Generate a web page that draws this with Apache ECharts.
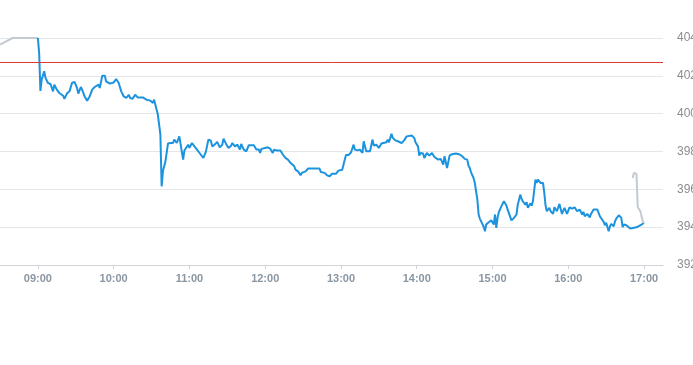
<!DOCTYPE html>
<html><head><meta charset="utf-8">
<script src="https://cdn.jsdelivr.net/npm/echarts@6/dist/echarts.min.js"></script>
<style>html,body{margin:0;padding:0;background:#fff}#c{width:693px;height:365px}</style>
</head><body><div id="c"></div>
<script>
// Regular session (blue)
const times = ["09:00","09:01","09:02","09:03","09:05","09:06","09:08","09:10","09:12","09:13","09:15","09:17","09:20","09:21","09:23","09:25","09:27","09:29","09:31","09:32","09:34","09:35","09:37","09:39","09:41","09:43","09:45","09:48","09:49","09:51","09:53","09:54","09:57","10:00","10:02","10:04","10:06","10:08","10:10","10:12","10:13","10:15","10:17","10:19","10:23","10:26","10:27","10:29","10:31","10:32","10:33","10:35","10:37","10:38","10:39","10:41","10:43","10:45","10:47","10:48","10:50","10:52","10:53","10:55","10:56","10:57","10:59","11:00","11:02","11:04","11:06","11:08","11:11","11:13","11:15","11:17","11:18","11:20","11:22","11:24","11:26","11:27","11:29","11:31","11:33","11:34","11:36","11:38","11:40","11:41","11:43","11:45","11:47","11:51","11:53","11:55","11:56","11:57","12:00","12:02","12:04","12:06","12:07","12:09","12:12","12:14","12:16","12:18","12:20","12:21","12:23","12:24","12:26","12:28","12:29","12:32","12:34","12:38","12:43","12:44","12:47","12:49","12:51","12:53","12:56","12:58","13:01","13:03","13:04","13:06","13:08","13:10","13:11","13:13","13:15","13:17","13:18","13:20","13:23","13:25","13:26","13:28","13:30","13:32","13:33","13:36","13:37","13:38","13:40","13:41","13:43","13:45","13:48","13:50","13:52","13:53","13:56","13:58","13:59","14:01","14:02","14:03","14:05","14:06","14:08","14:10","14:12","14:14","14:15","14:17","14:19","14:21","14:22","14:24","14:26","14:28","14:29","14:31","14:34","14:36","14:38","14:40","14:41","14:42","14:43","14:45","14:46","14:47","14:48","14:49","14:50","14:51","14:53","14:54","14:55","14:57","14:58","14:59","15:01","15:02","15:03","15:04","15:05","15:07","15:09","15:11","15:12","15:13","15:15","15:17","15:19","15:20","15:22","15:23","15:24","15:26","15:27","15:28","15:30","15:31","15:32","15:34","15:35","15:36","15:38","15:40","15:41","15:42","15:43","15:45","15:46","15:48","15:49","15:51","15:53","15:55","15:57","15:59","16:01","16:03","16:05","16:07","16:09","16:11","16:12","16:13","16:15","16:17","16:18","16:20","16:23","16:25","16:26","16:28","16:29","16:30","16:32","16:33","16:34","16:36","16:37","16:38","16:40","16:41","16:42","16:43","16:44","16:46","16:47","16:49","16:50","16:54","16:58","17:00"];
const prices = [404.0,403.2,401.2,401.8,402.24,401.89,401.62,401.57,401.18,401.53,401.27,401.09,400.95,400.78,401.06,401.18,401.62,401.68,401.36,401.06,401.41,401.27,400.91,400.69,400.91,401.27,401.41,401.53,401.36,402.01,402.01,401.71,401.59,401.65,401.83,401.62,401.18,400.91,400.83,401.0,400.83,400.79,401.0,400.86,400.86,400.74,400.79,400.69,400.57,400.74,400.83,399.95,398.89,396.16,396.95,397.48,398.42,398.45,398.45,398.63,398.45,398.8,398.84,397.57,398.05,397.98,398.36,398.19,398.45,398.27,398.1,397.92,397.66,397.98,398.63,398.57,398.27,398.36,398.51,398.22,398.36,398.68,398.4,398.19,398.31,398.45,398.27,398.36,398.1,398.4,398.1,398.01,398.33,398.33,398.1,398.1,397.92,398.14,398.19,398.22,398.15,397.92,398.1,398.05,398.05,397.84,397.66,397.57,397.4,397.31,397.22,397.04,396.95,396.74,396.87,396.95,397.1,397.1,397.1,396.92,396.87,396.74,396.69,396.82,396.82,396.99,397.04,397.57,397.81,397.81,397.96,398.36,398.1,398.06,398.1,397.92,398.54,398.01,398.01,398.63,398.31,398.36,398.19,398.42,398.42,398.49,398.63,398.49,398.93,398.72,398.59,398.54,398.45,398.59,398.8,398.85,398.84,398.72,398.49,398.27,397.78,397.92,397.89,397.66,397.92,397.78,397.92,397.71,397.78,397.57,397.61,397.31,397.75,397.13,397.78,397.86,397.76,397.89,397.84,397.75,397.61,397.57,397.25,397.13,396.9,396.6,396.34,395.9,395.46,394.67,394.44,394.31,394.02,393.78,394.14,394.26,394.19,394.36,394.14,394.67,393.96,394.49,394.79,395.1,395.37,395.14,394.93,394.84,394.36,394.49,394.67,395.19,395.72,395.49,395.37,395.19,395.32,395.02,395.25,395.14,395.37,396.51,396.34,396.51,396.34,396.34,395.81,395.14,394.84,395.02,394.84,394.7,395.05,394.84,395.23,394.7,395.02,394.7,395.05,394.98,395.05,394.84,394.93,394.67,394.81,394.58,394.7,394.52,394.7,394.93,394.93,394.58,394.52,394.28,394.1,394.23,393.78,394.05,394.17,394.05,394.31,394.45,394.63,394.7,394.49,394.0,394.14,394.1,394.17,393.93,393.87,393.99,394.14,394.23];
// Pre-market (grey)
const preTimes = ["08:30","08:40","09:00"];
const prePrices = [403.65,404.0,404.0];
// Post-market (grey)
const postTimes = ["16:51","16:52","16:53","16:53","16:54","16:55","16:55","16:56","16:57","16:59","17:00"];
const postPrices = [396.6,396.87,396.78,396.87,396.82,396.87,395.05,394.98,394.85,394.3,394.23];
const prevClose = 402.73;
const hourLabels = ["09:00","10:00","11:00","12:00","13:00","14:00","15:00","16:00","17:00"];
const yMin = 392, yMax = 404, yStep = 2;

const toMin = s => { const p = s.split(":"); return (+p[0]) * 60 + (+p[1]); };
const fmt = m => String(Math.floor(m / 60)).padStart(2, "0") + ":" + String(m % 60).padStart(2, "0");
const pair = (t, v) => t.map((s, i) => [toMin(s), v[i]]);
const hourVals = hourLabels.map(toMin);

const chart = echarts.init(document.getElementById('c'), null, {renderer: 'canvas'});
chart.setOption({
  animation: false,
  grid: {left: 0, right: 30, top: 38, height: 227, containLabel: false, outerBoundsMode: 'none'},
  xAxis: {
    type: 'value', min: toMin("08:30"), max: toMin("17:15"),
    splitLine: {show: false},
    axisLine: {show: true, lineStyle: {color: '#d0d4d8', width: 1}},
    axisTick: {show: true, customValues: hourVals, length: 4, lineStyle: {color: '#d0d4d8'}},
    axisLabel: {customValues: hourVals, formatter: v => fmt(v), color: '#8a96a2', fontSize: 11, fontWeight: 'bold', fontFamily: 'Liberation Sans, Arial, sans-serif', margin: 8}
  },
  yAxis: {
    type: 'value', position: 'right', min: yMin, max: yMax, interval: yStep,
    axisLine: {show: false}, axisTick: {show: false},
    splitLine: {show: true, lineStyle: {color: '#e4e7ea', width: 1}},
    axisLabel: {color: '#8d8d8d', fontSize: 12, fontFamily: 'Liberation Sans, Arial, sans-serif', margin: 14}
  },
  series: [
    {type: 'line', data: pair(preTimes, prePrices), showSymbol: false, lineStyle: {color: '#c3cad1', width: 2}, z: 2},
    {type: 'line', data: pair(times, prices), showSymbol: false, lineStyle: {color: '#1b93de', width: 2}, z: 3,
     markLine: {silent: true, symbol: ['none', 'none'], label: {show: false}, lineStyle: {color: '#d93a32', width: 1, type: 'solid'}, data: [{yAxis: prevClose}]}},
    {type: 'line', data: pair(postTimes, postPrices), showSymbol: false, lineStyle: {color: '#c3cad1', width: 2}, z: 4}
  ]
});
</script></body></html>
